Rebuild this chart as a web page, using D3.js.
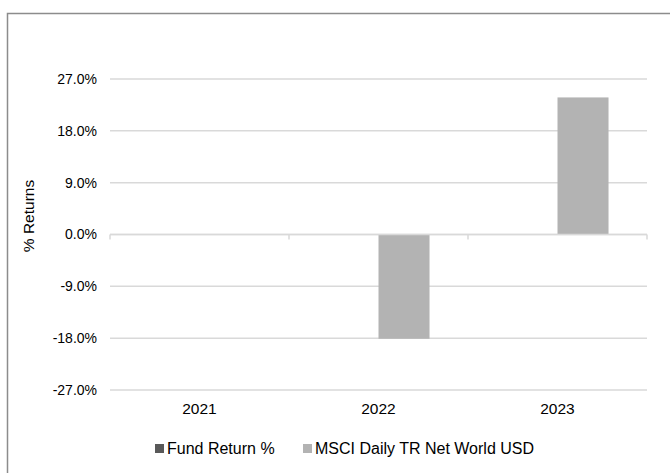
<!DOCTYPE html>
<html>
<head>
<meta charset="utf-8">
<script src="https://cdn.jsdelivr.net/npm/d3@7"></script>
<style>
  body { margin: 0; background: #fff; }
  text { font-family: "Liberation Sans", Arial, sans-serif; fill: #000; }
</style>
</head>
<body>
<div id="wrapper"></div>
<script>
const years = ['2021', '2022', '2023']
const seriesNames = ['Fund Return %', 'MSCI Daily TR Net World USD']
const fundReturns = [null, null, null]
const msciReturns = [null, -18.1, 23.8]
const yTicks = [-27, -18, -9, 0, 9, 18, 27]
const colors = ['#595959', '#b3b3b3']

function renderChart() {
    const dimensions = {
        width: 670,
        height: 473,
        margins: { top: 79, right: 23, bottom: 83, left: 110 }
    }
    dimensions.boundedWidth = dimensions.width - dimensions.margins.left - dimensions.margins.right
    dimensions.boundedHeight = dimensions.height - dimensions.margins.top - dimensions.margins.bottom

    const wrapper = d3.select('#wrapper')
        .append('svg')
        .attr('width', dimensions.width)
        .attr('height', dimensions.height)

    // outer frame (runs off the right and bottom edges)
    wrapper.append('rect')
        .attr('x', 7.5)
        .attr('y', 13.5)
        .attr('width', 700)
        .attr('height', 500)
        .attr('fill', 'none')
        .attr('stroke', '#8c8c8c')
        .attr('stroke-width', 1.5)

    const bounds = wrapper.append('g')
        .attr('transform', `translate(${dimensions.margins.left}, ${dimensions.margins.top})`)

    const yScale = d3.scaleLinear()
        .domain([-27, 27])
        .range([dimensions.boundedHeight, 0])

    const xScale = d3.scaleBand()
        .domain(years)
        .range([0, dimensions.boundedWidth])

    const barWidth = xScale.bandwidth() * 0.285
    const seriesScale = d3.scaleBand()
        .domain(seriesNames)
        .range([xScale.bandwidth() / 2 - barWidth, xScale.bandwidth() / 2 + barWidth])

    // gridlines
    bounds.append('g')
        .selectAll('line')
        .data(yTicks)
        .join('line')
        .attr('x1', 0)
        .attr('x2', dimensions.boundedWidth)
        .attr('y1', d => yScale(d))
        .attr('y2', d => yScale(d))
        .attr('stroke', '#d9d9d9')
        .attr('stroke-width', 1.5)

    // y labels (plain hyphen for negatives)
    const yAxisGenerator = d3.axisLeft(yScale)
        .tickValues(yTicks)
        .tickFormat(d => d.toFixed(1) + '%')
        .tickSize(0)
        .tickPadding(13)
    const yAxis = bounds.append('g').call(yAxisGenerator)
    yAxis.select('.domain').remove()
    yAxis.selectAll('text')
        .style('font-size', '14px')
        .style('font-family', '"Liberation Sans", Arial, sans-serif')
        .attr('fill', '#000')

    // bars
    const series = [fundReturns, msciReturns]
    const barData = []
    series.forEach((values, s) => {
        values.forEach((v, i) => {
            if (v !== null) barData.push({ year: years[i], series: seriesNames[s], value: v, color: colors[s] })
        })
    })
    bounds.append('g')
        .selectAll('rect')
        .data(barData)
        .join('rect')
        .attr('x', d => xScale(d.year) + seriesScale(d.series))
        .attr('width', seriesScale.bandwidth())
        .attr('y', d => yScale(Math.max(0, d.value)))
        .attr('height', d => Math.abs(yScale(d.value) - yScale(0)))
        .attr('fill', d => d.color)

    // zero axis with category tick marks
    const zero = bounds.append('g').attr('transform', `translate(0, ${yScale(0)})`)
    zero.append('line')
        .attr('x1', 0).attr('x2', dimensions.boundedWidth)
        .attr('stroke', '#d9d9d9').attr('stroke-width', 1.5)
    zero.selectAll('.tick')
        .data(years.map(y => xScale(y)).concat([dimensions.boundedWidth]))
        .join('line')
        .attr('x1', d => d).attr('x2', d => d)
        .attr('y1', 0).attr('y2', 5)
        .attr('stroke', '#d9d9d9').attr('stroke-width', 1.5)

    // category labels
    bounds.append('g')
        .selectAll('text')
        .data(years)
        .join('text')
        .attr('x', d => xScale(d) + xScale.bandwidth() / 2)
        .attr('y', dimensions.boundedHeight + 24)
        .attr('text-anchor', 'middle')
        .style('font-size', '15.5px')
        .text(d => d)

    // y axis title
    wrapper.append('text')
        .attr('transform', 'translate(34, 216) rotate(-90)')
        .attr('text-anchor', 'middle')
        .style('font-size', '15.5px')
        .text('% Returns')

    // legend
    const legendX = [155, 303]
    const legend = wrapper.append('g')
        .selectAll('g')
        .data(seriesNames)
        .join('g')
        .attr('transform', (d, i) => `translate(${legendX[i]}, 444)`)
    legend.append('rect')
        .attr('width', 9)
        .attr('height', 9)
        .attr('fill', (d, i) => colors[i])
    legend.append('text')
        .attr('x', 12)
        .attr('y', 10)
        .style('font-size', '16px')
        .text(d => d)
}

renderChart()
</script>
</body>
</html>
